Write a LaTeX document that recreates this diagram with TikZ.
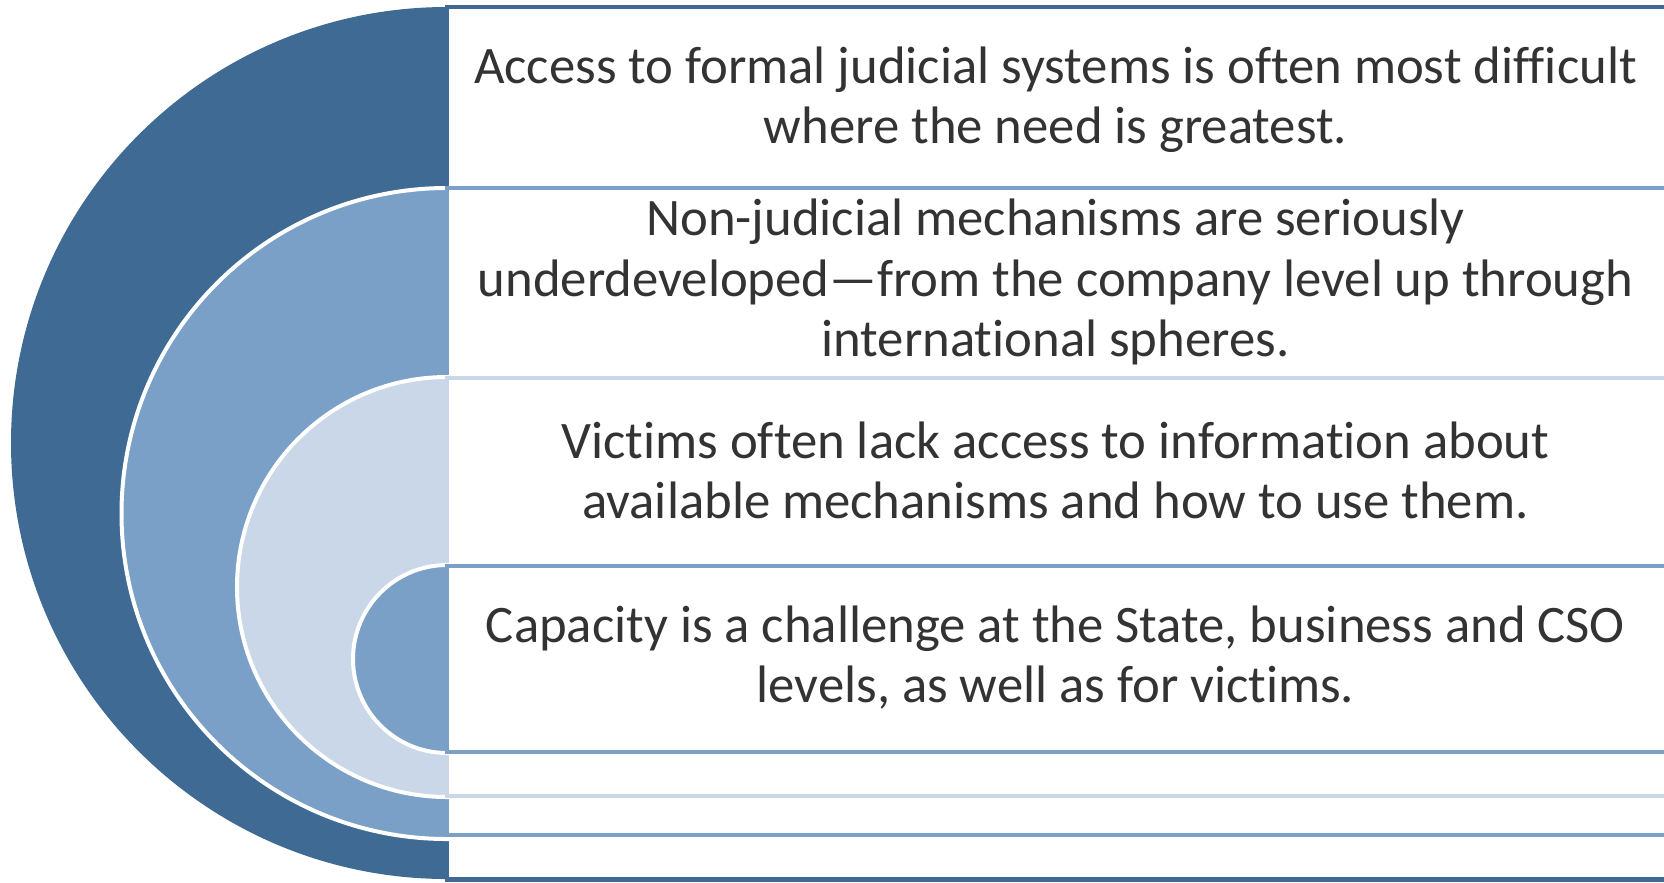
\documentclass[tikz,border=0pt]{standalone}
\usepackage{fontspec}
\setmainfont{Carlito}[Ligatures = NoCommon]

\definecolor{darkblue}{HTML}{3E6A94}
\definecolor{midblue}{HTML}{7AA0C8}
\definecolor{paleblue}{HTML}{C9D7E9}
\definecolor{textgray}{HTML}{333333}

\tikzset{
  halfdisc/.style = {draw = white, line width = 0.04cm},
  band/.style = {fill = white, line width = 0.045cm},
  bandtext/.style = {align = center, text = textgray, font = \fontsize{15}{17.1}\selectfont}
}

\begin{document}
\begin{tikzpicture}
              \useasboundingbox (0, 0) rectangle (16.64, 8.82);
              \clip (0, 0) rectangle (16.64, 8.82);

              \def\firstdisc{(4.47, 8.75) arc[start angle = 90, end angle = 270, radius = 4.36] -- cycle}
              \def\seconddisc{(4.47, 6.94) arc[start angle = 90, end angle = 270, radius = 3.255] -- cycle}
              \def\thirddisc{(4.47, 5.05) arc[start angle = 90, end angle = 270, radius = 2.10] -- cycle}
              \def\fourthdisc{(4.47, 3.17) arc[start angle = 90, end angle = 270, radius = 0.94] -- cycle}

              \fill[darkblue] \firstdisc;
              \draw[band, draw = darkblue] (4.47, 0.025) rectangle (17, 8.75);

              \fill[midblue, halfdisc] \seconddisc;
              \draw[band, draw = midblue] (4.47, 0.47) rectangle (17, 6.94);

              \fill[paleblue, halfdisc] \thirddisc;
              \draw[band, draw = paleblue] (4.47, 0.86) rectangle (17, 5.04);

              \fill[midblue, halfdisc] \fourthdisc;
              \draw[band, draw = midblue] (4.47, 1.30) rectangle (17, 3.16);

              \node[bandtext] (access) at (10.555, 7.825) {Access to formal judicial systems is often most difficult\\where the need is greatest.};
              \node[bandtext] (nonjudicial) at (10.555, 6.00) {Non-judicial mechanisms are seriously\\underdeveloped---from the company level up through\\international spheres.};
              \node[bandtext] (victims) at (10.555, 4.12) {Victims often lack access to information about\\available mechanisms and how to use them.};
              \node[bandtext] (capacity) at (10.555, 2.245) {Capacity is a challenge at the State, business and CSO\\levels, as well as for victims.};
            \end{tikzpicture}
\end{document}
